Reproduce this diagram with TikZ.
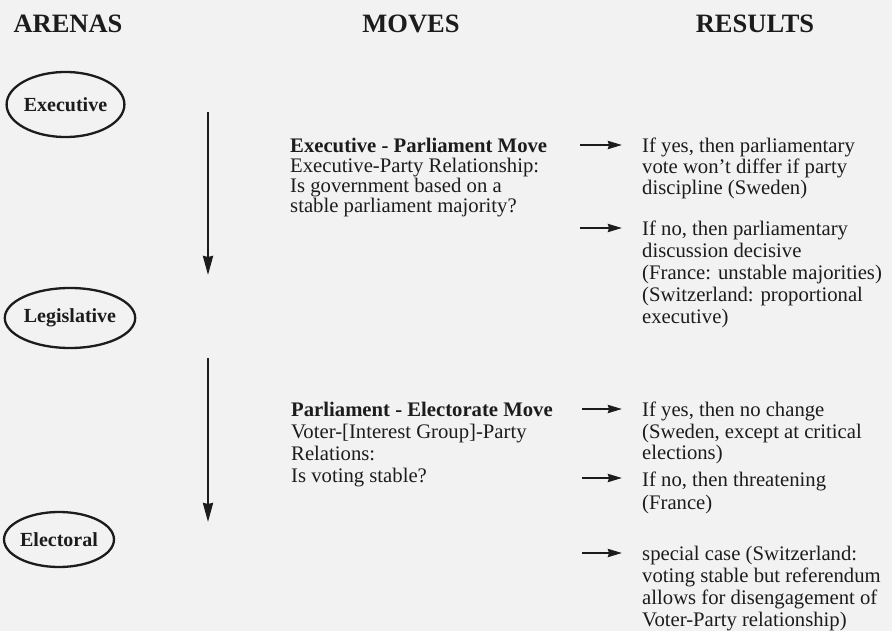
\documentclass[tikz,border=0pt]{standalone}
\usepackage{fontspec}
\setmainfont{Liberation Serif}
\usepackage{tikz}
\usetikzlibrary{shapes.geometric, positioning, arrows.meta, calc}
\definecolor{ink}{HTML}{1C1C1C}
\definecolor{paper}{HTML}{F2F2F2}
\tikzset{
  heading/.style={font=\fontsize{26.5}{30}\selectfont\bfseries, text=ink, inner sep=0pt},
  arena/.style={ellipse, draw=ink, line width=2.3pt, inner sep=0pt, font=\fontsize{20}{22}\selectfont\bfseries, text=ink},
  movetext/.style={align=left, anchor=north west, inner sep=0pt, text=ink, font=\fontsize{20.7}{#1}\selectfont},
  movetext/.default=22,
  restext/.style={align=left, anchor=north west, inner sep=0pt, text=ink, font=\fontsize{20.7}{#1}\selectfont},
  restext/.default=22,
  downarrow/.style={draw=ink, line width=2.3pt, -{Stealth[length=19pt,width=10pt,inset=1pt]}},
  resarrow/.style={draw=ink, line width=2.3pt, -{Stealth[length=14pt,width=8pt,inset=1pt]}, shorten >=20pt}
}

\begin{document}
\begin{tikzpicture}[x=1pt, y=-1pt] % <-- pixel grid, y runs down
    \useasboundingbox[fill=paper] (0,0) rectangle (892,631);

    % column headings
    \node (arenas) [heading] at (68,24) {ARENAS};
    \node (moves) [heading] at (411,24) {MOVES};
    \node (results) [heading] at (755,24) {RESULTS};

    % arenas
    \node (exec) [arena, minimum width=117pt, minimum height=65pt] at (65.5,104.5) {Executive};
    \node (legis) [arena, minimum width=130pt, minimum height=60pt] at (70,318) {Legislative};
    \node (elect) [arena, minimum width=108pt, minimum height=55pt] at (59,539.5) {Electoral};

    % moves
    \node (mvexec) [movetext=20] at (290,138) {\textbf{Executive - Parliament Move}\\ Executive-Party Relationship:\\ Is government based on a\\ stable parliament majority?};
    \node (mvelect) [movetext] at (291,402) {\textbf{Parliament - Electorate Move}\\ Voter-[Interest Group]-Party\\ Relations:\\ Is voting stable?};

    % results
    \node (resyes) [restext=21] at (642,138) {If yes, then parliamentary\\ vote won't differ if party\\ discipline (Sweden)};
    \node (resno) [restext] at (642,221) {If no, then parliamentary\\ discussion decisive\\ (France: unstable majorities)\\ (Switzerland: proportional\\ executive)};
    \node (stable) [restext=21.5] at (642,402) {If yes, then no change\\ (Sweden, except at critical\\ elections)};
    \node (threat) [restext=23] at (642,472) {If no, then threatening\\ (France)};
    \node (special) [restext] at (642,546) {special case (Switzerland:\\ voting stable but referendum\\ allows for disengagement of\\ Voter-Party relationship)};

    % ends of the arrows
    \coordinate (top1) at (208,112);
    \coordinate (bot1) at (208,275);
    \coordinate (top2) at (208,358);
    \coordinate (bot2) at (208,522);
    \coordinate (y1) at (580,145);
    \coordinate (y2) at (580,228);
    \coordinate (y3) at (582,409);
    \coordinate (y4) at (582,478);
    \coordinate (y5) at (582,553);

    \draw [downarrow] (top1) -- (bot1);
    \draw [downarrow] (top2) -- (bot2);
    \draw [resarrow] (y1) -- (y1 -| resyes.west);
    \draw [resarrow] (y2) -- (y2 -| resno.west);
    \draw [resarrow] (y3) -- (y3 -| stable.west);
    \draw [resarrow] (y4) -- (y4 -| threat.west);
    \draw [resarrow] (y5) -- (y5 -| special.west);
\end{tikzpicture}
\end{document}
